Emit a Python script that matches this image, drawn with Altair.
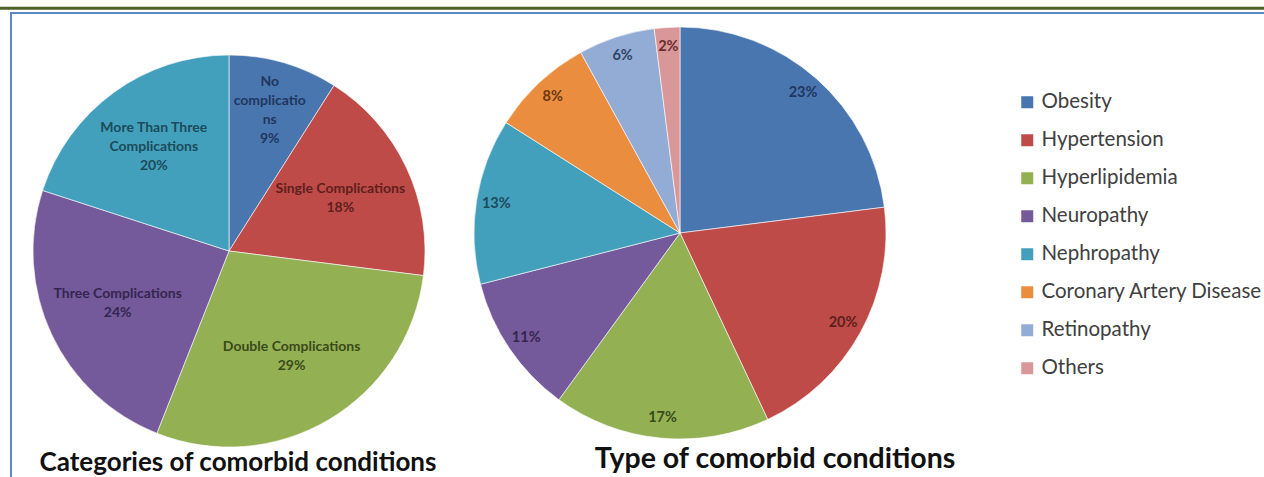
import altair as alt
import pandas as pd

# ---------------- data ----------------
left_categories = ["No complications", "Single Complications", "Double Complications",
                   "Three Complications", "More Than Three Complications"]
left_labels = ["No\ncomplicatio\nns", "Single Complications", "Double Complications",
               "Three Complications", "More Than Three\nComplications"]
left_values = [9, 18, 29, 24, 20]

right_categories = ["Obesity", "Hypertension", "Hyperlipidemia", "Neuropathy",
                    "Nephropathy", "Coronary Artery Disease", "Retinopathy", "Others"]
right_values = [23, 20, 17, 11, 13, 8, 6, 2]

left_title = "Categories of comorbid conditions"
right_title = "Type of comorbid conditions"

# ---------------- styles ----------------
fill_colors = ["#4A76B0", "#BE4B48", "#93B052", "#74599B", "#43A0BC",
               "#EB8D3F", "#93ACD6", "#D9979A"]
text_colors = ["#1F3760", "#5E1F1D", "#3A4B1B", "#35264F", "#1C4B5B",
               "#6A3810", "#2E4566", "#6B2E2E"]

left_df = pd.DataFrame({
    "category": left_categories,
    "label": [f"{l}\n{v}%" for l, v in zip(left_labels, left_values)],
    "value": left_values,
    "idx": list(range(len(left_values))),
})
right_df = pd.DataFrame({
    "condition": right_categories,
    "label": [f"{v}%" for v in right_values],
    "value": right_values,
    "idx": list(range(len(right_values))),
})
one = pd.DataFrame({"a": [0]})

LCX, LCY, LR = 229, 251, 196
RCX, RCY, RR = 680, 233, 206
LINE_H = 19

left_pie = alt.Chart(left_df).mark_arc(radius=LR, stroke="#ffffff", strokeWidth=0.6).encode(
    x=alt.value(LCX), y=alt.value(LCY),
    theta=alt.Theta("value:Q", stack=True),
    order=alt.Order("idx:Q"),
    color=alt.Color("category:N", scale=alt.Scale(domain=left_categories, range=fill_colors[:5]),
                    legend=None),
)


def left_label_layer(nlines, radius):
    # multi-line labels are centred on their anchor by shifting up half their height
    return alt.Chart(left_df).transform_window(
        cum="sum(value)", sort=[alt.SortField("idx")], frame=[None, 0]
    ).transform_calculate(
        mid="datum.cum - datum.value / 2",
        nlines="split(datum.label, '\\n').length",
    ).transform_filter(f"datum.nlines == {nlines}").mark_text(
        radius=radius, lineBreak="\n", font="Lato", fontSize=14, fontWeight="bold",
        lineHeight=LINE_H, dy=-(nlines - 1) * LINE_H / 2,
    ).encode(
        x=alt.value(LCX), y=alt.value(LCY),
        theta=alt.Theta("mid:Q", scale=alt.Scale(domain=[0, 100])),
        text="label:N",
        color=alt.Color("category:N",
                        scale=alt.Scale(domain=left_categories, range=text_colors[:5]),
                        legend=None),
    )


left_text_4 = left_label_layer(4, 146)   # narrow slice, wrapped label, placed further out
left_text_3 = left_label_layer(3, 128)
left_text_2 = left_label_layer(2, 123)

right_pie = alt.Chart(right_df).mark_arc(radius=RR, stroke="#ffffff", strokeWidth=0.6).encode(
    x=alt.value(RCX), y=alt.value(RCY),
    theta=alt.Theta("value:Q", stack=True),
    order=alt.Order("idx:Q"),
    color=alt.Color("condition:N", scale=alt.Scale(domain=right_categories, range=fill_colors),
                    legend=alt.Legend(
                        title=None, orient="none", legendX=1017, legendY=92,
                        symbolType="square", symbolSize=144, symbolStrokeWidth=0,
                        labelFont="Lato", labelFontSize=20.5, labelColor="#404040",
                        labelOffset=4, rowPadding=17, padding=0, labelLimit=400,
                    )),
)
right_text = alt.Chart(right_df).mark_text(
    radius=186, font="Lato", fontSize=14.5, fontWeight="bold"
).encode(
    x=alt.value(RCX), y=alt.value(RCY),
    theta=alt.Theta("value:Q", stack=True),
    order=alt.Order("idx:Q"),
    text="label:N",
    color=alt.Color("condition:N", scale=alt.Scale(domain=right_categories, range=text_colors),
                    legend=None),
)

title_l = alt.Chart(one).mark_text(
    font="Lato", fontSize=26, fontWeight="bold", color="#111111", align="center", baseline="alphabetic"
).encode(x=alt.value(238), y=alt.value(471), text=alt.value(left_title))
title_r = alt.Chart(one).mark_text(
    font="Lato", fontSize=28.5, fontWeight="bold", color="#111111", align="center", baseline="alphabetic"
).encode(x=alt.value(775), y=alt.value(468), text=alt.value(right_title))

green_line = alt.Chart(one).mark_rule(color="#4F6228", strokeWidth=3).encode(
    x=alt.value(0), x2=alt.value(1264), y=alt.value(8.2))
blue_top = alt.Chart(one).mark_rule(color="#5A8AC6", strokeWidth=2).encode(
    x=alt.value(10), x2=alt.value(1264), y=alt.value(13))
blue_left = alt.Chart(one).mark_rule(color="#5A8AC6", strokeWidth=2).encode(
    x=alt.value(11), y=alt.value(12), y2=alt.value(477))

chart = alt.layer(
    left_pie, left_text_4, left_text_3, left_text_2, right_pie, right_text, title_l, title_r,
    green_line, blue_top, blue_left
).resolve_scale(color="independent", theta="independent").properties(
    width=1264, height=477, padding=0,
    autosize=alt.AutoSizeParams(type="none"),
    background="#ffffff",
).configure_view(stroke=None)

chart.save("out.html", embed_options={"renderer": "svg", "actions": False})
